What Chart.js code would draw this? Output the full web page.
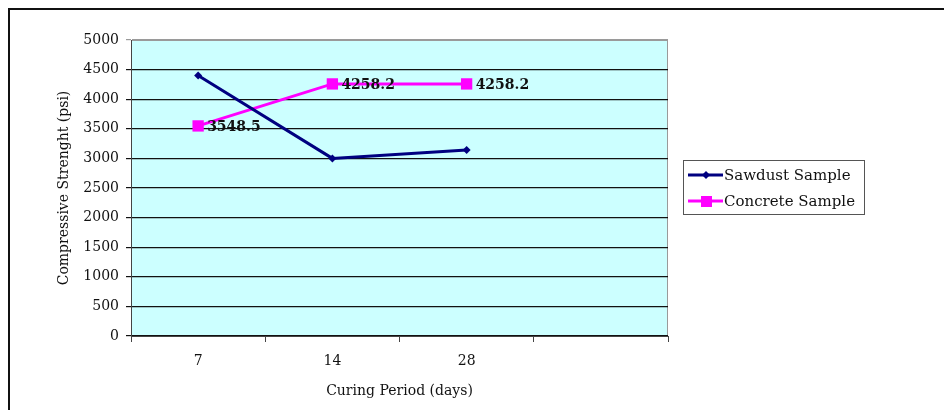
<!DOCTYPE html>
<html lang="en">
<head>
    <meta charset="UTF-8">
    <title>Compressive Strength</title>
    <script src="https://cdn.jsdelivr.net/npm/chart.js"></script>
    <style>
        html, body {
            margin: 0;
            background: #ffffff;
            overflow: hidden;
            width: 944px;
            height: 410px;
        }
        .frame {
            position: absolute;
            left: 8px;
            top: 8px;
            right: -20px;
            bottom: -20px;
            border-left: 2px solid #111;
            border-top: 2px solid #111;
        }
        #chart {
            position: absolute;
            left: 0;
            top: 0;
        }
    </style>
</head>
<body>
    <div class="frame"></div>
    <canvas id="chart" width="944" height="410"></canvas>

    <script>
        // values
        const curingDays = ['7', '14', '28', ''];
        const sawdust = [4400, 3000, 3140, null];
        const concrete = [3548.5, 4258.2, 4258.2, null];
        const yTicks = [0, 500, 1000, 1500, 2000, 2500, 3000, 3500, 4000, 4500, 5000];

        const serif = '"DejaVu Serif", "Liberation Serif", serif';

        // light cyan plot area with a grey frame
        const plotBg = {
            id: 'plotBg',
            beforeDraw(chart) {
                const a = chart.chartArea;
                const ctx = chart.ctx;
                ctx.save();
                ctx.fillStyle = '#ccffff';
                ctx.fillRect(a.left, a.top, a.right - a.left, a.bottom - a.top);
                ctx.strokeStyle = '#9a9a9a';
                ctx.lineWidth = 1;
                ctx.strokeRect(a.left + 0.5, a.top + 0.5, a.right - a.left - 1, a.bottom - a.top);
                ctx.restore();
            }
        };

        // value labels beside the concrete points
        const pointLabels = {
            id: 'pointLabels',
            afterDatasetsDraw(chart) {
                const ctx = chart.ctx;
                const meta = chart.getDatasetMeta(1);
                ctx.save();
                ctx.font = 'bold 14px ' + serif;
                ctx.fillStyle = '#111';
                ctx.textBaseline = 'middle';
                meta.data.forEach((pt, i) => {
                    const v = concrete[i];
                    if (v === null) return;
                    ctx.fillText(v.toFixed(1), pt.x + 9, pt.y + 1);
                });
                ctx.restore();
            }
        };

        // legend in a box on the right
        const boxLegend = {
            id: 'boxLegend',
            afterDraw(chart) {
                const ctx = chart.ctx;
                const x = 683, y = 160, w = 181, h = 54;
                ctx.save();
                ctx.fillStyle = '#fff';
                ctx.fillRect(x, y, w, h);
                ctx.strokeStyle = '#555';
                ctx.lineWidth = 1;
                ctx.strokeRect(x + 0.5, y + 0.5, w, h);
                chart.data.datasets.forEach((ds, i) => {
                    const ly = y + 15 + i * 26;
                    ctx.strokeStyle = ds.borderColor;
                    ctx.lineWidth = 3;
                    ctx.beginPath();
                    ctx.moveTo(x + 5, ly);
                    ctx.lineTo(x + 40, ly);
                    ctx.stroke();
                    ctx.fillStyle = ds.borderColor;
                    if (i === 0) {
                        ctx.beginPath();
                        ctx.moveTo(x + 23, ly - 4);
                        ctx.lineTo(x + 27, ly);
                        ctx.lineTo(x + 23, ly + 4);
                        ctx.lineTo(x + 19, ly);
                        ctx.closePath();
                        ctx.fill();
                    } else {
                        ctx.fillRect(x + 18, ly - 5, 11, 11);
                    }
                    ctx.fillStyle = '#111';
                    ctx.font = '15px ' + serif;
                    ctx.textBaseline = 'middle';
                    ctx.fillText(ds.label, x + 41, ly + 1);
                });
                ctx.restore();
            }
        };

        const ctx = document.getElementById('chart').getContext('2d');
        new Chart(ctx, {
            type: 'line',
            data: {
                labels: curingDays,
                datasets: [{
                    label: 'Sawdust Sample',
                    data: sawdust,
                    borderColor: '#000080',
                    backgroundColor: '#000080',
                    borderWidth: 3,
                    pointStyle: 'rectRot',
                    pointRadius: 4,
                    pointBorderWidth: 0,
                    tension: 0
                }, {
                    label: 'Concrete Sample',
                    data: concrete,
                    borderColor: '#ff00ff',
                    backgroundColor: '#ff00ff',
                    borderWidth: 3,
                    pointStyle: 'rect',
                    pointRadius: 8,
                    pointBorderWidth: 0,
                    tension: 0
                }]
            },
            options: {
                responsive: false,
                animation: false,
                events: [],
                layout: {
                    padding: { left: 56, top: 40, right: 276, bottom: 10 }
                },
                plugins: {
                    legend: { display: false },
                    tooltip: { enabled: false }
                },
                scales: {
                    x: {
                        offset: true,
                        grid: {
                            offset: true,
                            drawOnChartArea: false,
                            color: '#444',
                            tickLength: 6
                        },
                        border: { color: '#444', width: 1 },
                        ticks: {
                            color: '#111',
                            padding: 11,
                            maxRotation: 0,
                            font: { family: serif, size: 14 }
                        },
                        title: {
                            display: true,
                            text: 'Curing Period (days)',
                            color: '#111',
                            padding: { top: 4, bottom: 0 },
                            font: { family: serif, size: 14 }
                        },
                        afterFit(scale) { scale.height = 64; }
                    },
                    y: {
                        min: 0,
                        max: 5000,
                        afterBuildTicks(scale) {
                            scale.ticks = yTicks.map(v => ({ value: v }));
                        },
                        grid: {
                            color: ctx => ctx.tick && ctx.tick.value === 5000 ? '#9a9a9a' : '#111',
                            lineWidth: 1.2,
                            tickLength: 5
                        },
                        border: { color: '#444', width: 1 },
                        ticks: {
                            color: '#111',
                            padding: 7,
                            font: { family: serif, size: 14 },
                            callback: v => String(v)
                        },
                        title: {
                            display: true,
                            text: 'Compressive Strenght (psi)',
                            color: '#111',
                            padding: { top: 0, bottom: 0 },
                            font: { family: serif, size: 14 }
                        },
                        afterFit(scale) { scale.width = 75; }
                    }
                }
            },
            plugins: [plotBg, pointLabels, boxLegend]
        });
    </script>
</body>
</html>
